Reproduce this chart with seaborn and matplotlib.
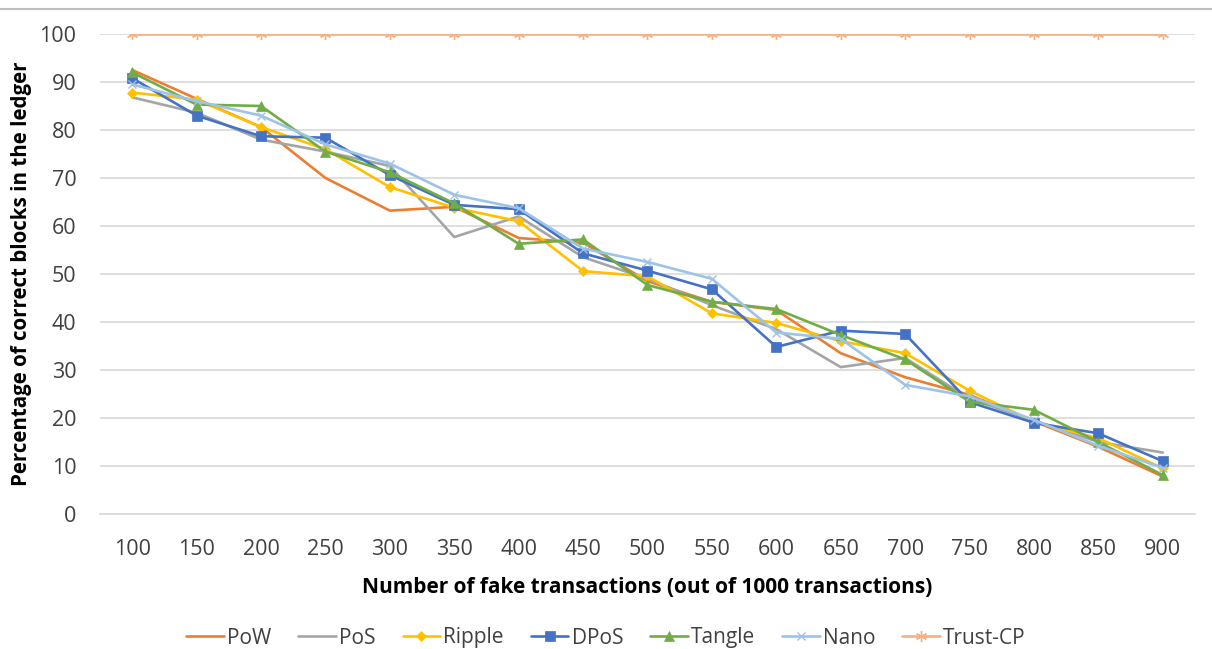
import numpy as np
import pandas as pd
import matplotlib
matplotlib.use("Agg")
import matplotlib.pyplot as plt
import seaborn as sns
from matplotlib.lines import Line2D

fake_tx = [100, 150, 200, 250, 300, 350, 400, 450, 500, 550, 600, 650, 700, 750, 800, 850, 900]

pow_vals = [92.5, 86.5, 80.6, 70.0, 63.2, 64.0, 57.5, 56.5, 48.5, 44.2, 42.5, 33.5, 28.5, 24.8, 19.3, 14.0, 7.8]
pos_vals = [86.8, 83.6, 78.0, 75.5, 72.5, 57.7, 62.0, 53.5, 49.0, 43.5, 38.5, 30.6, 32.5, 24.0, 19.5, 15.0, 12.8]
ripple_vals = [87.8, 86.3, 80.6, 76.0, 68.1, 63.8, 61.0, 50.6, 49.5, 41.8, 39.8, 36.0, 33.5, 25.7, 19.2, 15.8, 9.5]
dpos_vals = [90.8, 83.0, 78.7, 78.4, 70.6, 64.4, 63.5, 54.3, 50.7, 46.8, 34.8, 38.2, 37.5, 23.3, 19.0, 16.8, 11.0]
tangle_vals = [92.0, 85.3, 85.0, 75.5, 71.2, 64.7, 56.3, 57.2, 47.7, 44.2, 42.7, 37.3, 32.2, 23.4, 21.7, 15.0, 8.1]
nano_vals = [89.5, 86.0, 83.0, 77.0, 73.0, 66.5, 63.7, 55.3, 52.5, 49.0, 37.8, 36.5, 26.9, 24.5, 19.6, 14.2, 9.6]
trust_vals = [100] * 17

series_names = ["PoW", "PoS", "Ripple", "DPoS", "Tangle", "Nano", "Trust-CP"]
series_values = [pow_vals, pos_vals, ripple_vals, dpos_vals, tangle_vals, nano_vals, trust_vals]

y_ticks = [0, 10, 20, 30, 40, 50, 60, 70, 80, 90, 100]

colors = ["#ED7D31", "#A5A5A5", "#FFC000", "#4472C4", "#70AD47", "#9DC3E6", "#F4B183"]
markers = [None, None, "D", "s", "^", "x", (6, 2, 0)]
msizes = [0, 0, 5, 7, 7, 6, 8]

sns.set_theme(style="white")
plt.rcParams["font.family"] = ["Open Sans", "DejaVu Sans"]

fig = plt.figure(figsize=(12.12, 6.49), dpi=100)
ax = fig.add_axes([100 / 1212, 1 - 514 / 649, (1195 - 100) / 1212, (514 - 34) / 649])

for name, vals, c, m, ms in zip(series_names, series_values, colors, markers, msizes):
    df = pd.DataFrame({"x": fake_tx, "y": vals})
    kw = {}
    if m is not None:
        thin = m == "x" or isinstance(m, tuple)
        kw = dict(marker=m, markersize=ms, markeredgecolor=c, markerfacecolor=c,
                  markeredgewidth=1.0 if thin else 0.5)
    sns.lineplot(data=df, x="x", y="y", ax=ax, color=c, linewidth=1.9,
                 label=name, zorder=3, **kw)

ax.set_xlim(75, 925)
ax.set_ylim(0, 100)
ax.set_xticks(fake_tx)
ax.set_xticklabels([str(v) for v in fake_tx])
ax.set_yticks(y_ticks)
ax.set_yticklabels([str(v) for v in y_ticks])
ax.tick_params(axis="both", length=0, labelsize=15.5, labelcolor="#404040")
ax.tick_params(axis="x", pad=18)
ax.tick_params(axis="y", pad=17)
ax.yaxis.grid(True, color="#D9D9D9", linewidth=1.2)
ax.xaxis.grid(False)
for s in ["top", "right", "left"]:
    ax.spines[s].set_visible(False)
ax.spines["bottom"].set_color("#D9D9D9")
ax.spines["bottom"].set_linewidth(1.2)

ax.set_xlabel("Number of fake transactions (out of 1000 transactions)",
              fontsize=15, fontweight="bold", color="#000000", labelpad=12)
ax.set_ylabel("Percentage of correct blocks in the ledger",
              fontsize=14.8, fontweight="bold", color="#000000", labelpad=5)

ax.legend_.remove()
handles, labels = ax.get_legend_handles_labels()
fig.legend(handles, labels, loc="center", bbox_to_anchor=(0.5, 1 - 638 / 649),
           ncol=7, frameon=False, fontsize=15, handlelength=1.8,
           columnspacing=1.3, handletextpad=0.15, labelcolor="#404040")

fig.add_artist(Line2D([0, 1], [1 - 9 / 649, 1 - 9 / 649], transform=fig.transFigure,
                      color="#BFBFBF", linewidth=1.5))

fig.savefig("out.png", dpi=100, facecolor="white")
